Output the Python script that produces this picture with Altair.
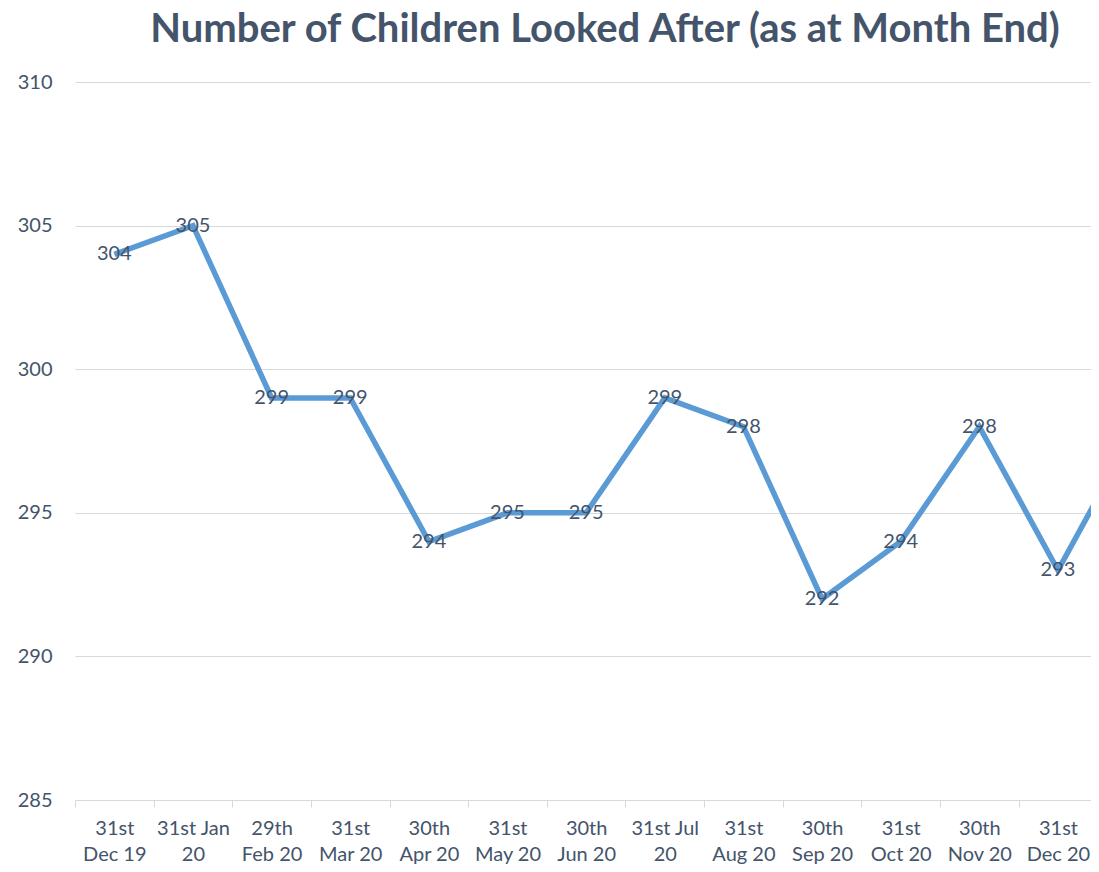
import altair as alt
import pandas as pd
import json

# Categories (the last one is cut off by the chart's right edge in the reference)
line1 = ["31st", "31st Jan", "29th", "31st", "30th", "31st", "30th", "31st Jul",
         "31st", "30th", "31st", "30th", "31st", "31st Jan"]
line2 = ["Dec 19", "20", "Feb 20", "Mar 20", "Apr 20", "May 20", "Jun 20", "20",
         "Aug 20", "Sep 20", "Oct 20", "Nov 20", "Dec 20", "21"]
values = [304, 305, 299, 299, 294, 295, 295, 299, 298, 292, 294, 298, 293, 298]
y_ticks = [285, 290, 295, 300, 305, 310]

TEXT = "#44546A"
GRID = "#D9D9D9"
LINE = "#5B9BD5"
FONT = "Lato"

df = pd.DataFrame({
    "idx": list(range(len(values))),
    "value": values,
    "label": [str(v) for v in values],
})

labels_js = json.dumps([[a, b] for a, b in zip(line1, line2)])
n_visible = 13
tick_vals = [i - 0.5 for i in range(n_visible)]

WIDTH = 1016
DOMAIN = [-0.5, 12.42]
band = WIDTH / (DOMAIN[1] - DOMAIN[0])

x_enc = alt.X(
    "idx:Q",
    scale=alt.Scale(domain=DOMAIN, nice=False, zero=False),
    axis=alt.Axis(
        values=tick_vals,
        title=None,
        grid=False,
        domainColor=GRID,
        domainWidth=1,
        tickColor=GRID,
        tickSize=7,
        labelOffset=band / 2,
        labelExpr=labels_js + "[round(datum.value + 0.5)]",
        labelFont=FONT,
        labelFontSize=20,
        labelColor=TEXT,
        labelPadding=11,
        labelLineHeight=26,
        labelBaseline="top",
        labelAlign="center",
        labelFlush=False,
        labelOverlap=False,
        labelBound=False,
    ),
)

y_enc = alt.Y(
    "value:Q",
    scale=alt.Scale(domain=[285, 310], nice=False, zero=False),
    axis=alt.Axis(
        values=y_ticks,
        title=None,
        domain=False,
        ticks=False,
        grid=True,
        gridColor=GRID,
        gridWidth=1,
        labelFont=FONT,
        labelFontSize=20,
        labelColor=TEXT,
        labelPadding=23,
    ),
)

line = alt.Chart(df).mark_line(color=LINE, strokeWidth=5.5, clip=True).encode(x=x_enc, y=y_enc)
text = alt.Chart(df).mark_text(
    font=FONT, fontSize=20, color=TEXT, align="center", baseline="middle", clip=True
).encode(x="idx:Q", y="value:Q", text="label:N")

chart = alt.layer(line, text).properties(
    width=WIDTH,
    height=718,
    padding={"left": 67, "top": 74, "right": 0, "bottom": 64},
    autosize=alt.AutoSizeParams(type="none"),
    title=alt.TitleParams(
        "Number of Children Looked After (as at Month End)",
        font=FONT,
        fontSize=40,
        fontWeight="bold",
        color=TEXT,
        anchor="middle",
        frame="group",
        dx=22,
        offset=22,
    ),
).configure_view(stroke=None)

chart.save("out.html", embed_options={"renderer": "svg", "actions": False})
